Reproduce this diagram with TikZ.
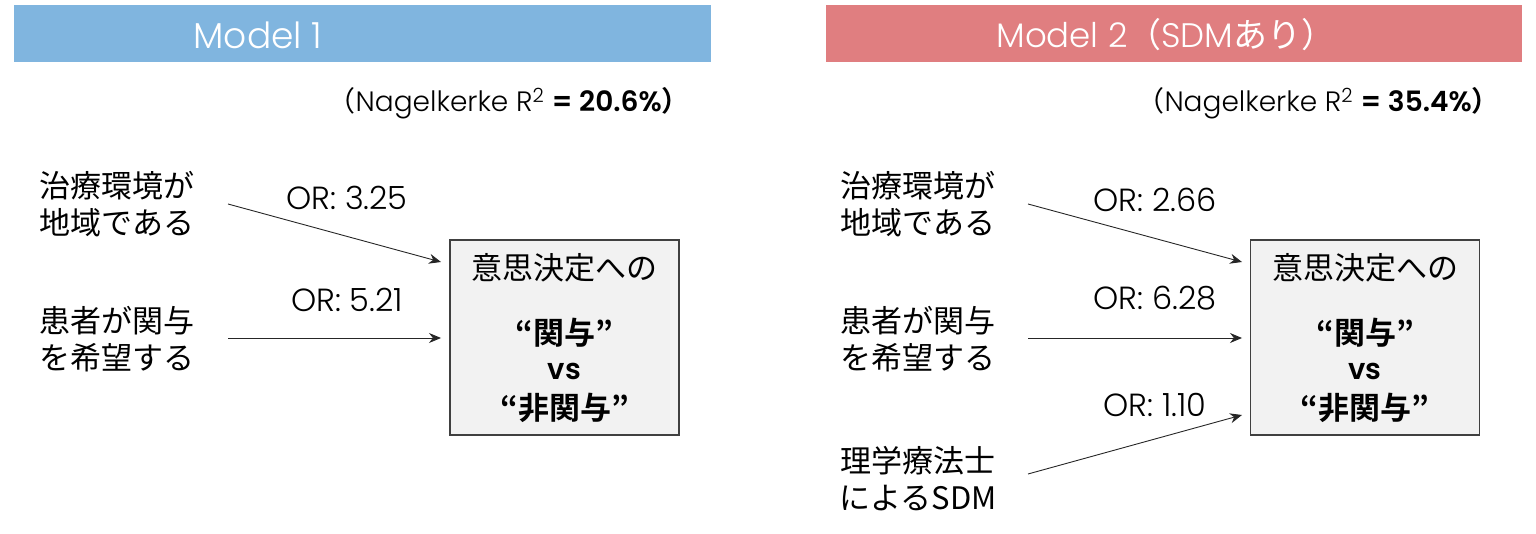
\documentclass[tikz,border=0pt]{standalone}
\usepackage{fontspec}
\setmainfont{Poppins}[UprightFont=* Light,BoldFont=* SemiBold]
\newfontfamily\jp{Noto Sans CJK JP}[BoldFont={Noto Sans CJK JP Bold}]
\usetikzlibrary{positioning,arrows.meta}
\definecolor{barblue}{RGB}{128,181,223}
\definecolor{barred}{RGB}{224,126,128}
\definecolor{boxgray}{RGB}{242,242,242}

\begin{document}
\begin{tikzpicture}[x=1pt,y=-1pt,>={Stealth[length=12pt,width=10pt]},
    every node/.style={inner sep=0pt},
    rsq/.style={anchor=east,font=\fontsize{28}{32}\selectfont},
    lbl/.style={align=center,font=\fontsize{31}{37}\selectfont\jp},
    ortxt/.style={font=\fontsize{32}{36}\selectfont},
    outbox/.style={draw=black!75,fill=boxgray,line width=1.3pt,minimum width=229pt,minimum height=195pt},
    inner/.style={font=\fontsize{31}{37}\selectfont\jp},
    path/.style={->,line width=0.9pt,black!85}]
\useasboundingbox (0,0) rectangle (1536,534);

% header bars
\fill[barblue] (14,5) rectangle (711,62);
\fill[barred] (826,5) rectangle (1522,62);
\node[text=white,font=\fontsize{36}{40}\selectfont] (head1) at (258,35) {Model 1};
\node[text=white,font=\fontsize{34}{40}\selectfont] (head2) at (1166,35) {Model 2{\jp（}SDM{\jp あり）}};
\node[rsq] (rsq1) at (690,103) {{\jp（}Nagelkerke R\textsuperscript{2} \textbf{= 20.6\%}{\jp\bfseries ）}};
\node[rsq] (rsq2) at (1500,103) {{\jp（}Nagelkerke R\textsuperscript{2} \textbf{= 35.4\%}{\jp\bfseries ）}};

% Model 1
\node[outbox] (box1) at (564.5,337.5) {};
\node[inner] (dec1) at (564.5,268) {意思決定への};
\node[inner] (inv1) at (564.5,333) {\bfseries “関与”};
\node[font=\fontsize{29}{32}\selectfont\bfseries] (vs1) at (564.5,371) {vs};
\node[inner] (non1) at (564.5,408) {\bfseries “非関与”};
\node[lbl] (env1) at (117,204) {治療環境が\\地域である};
\node[lbl] (hope1) at (117,339) {患者が関与\\を希望する};
\coordinate (e1) at (228,204);
\coordinate (h1) at (228,338);
\coordinate (t1) at (441,262);
\coordinate (t2) at (441,338);
\draw[path] (e1) -- (t1);
\draw[path] (h1) -- (t2);
\node[ortxt] (or11) at (347,198) {OR: 3.25};
\node[ortxt] (or12) at (347,300) {OR: 5.21};

% Model 2
\node[outbox] (box2) at (1365,337.5) {};
\node[inner] (dec2) at (1365,268) {意思決定への};
\node[inner] (inv2) at (1365,333) {\bfseries “関与”};
\node[font=\fontsize{29}{32}\selectfont\bfseries] (vs2) at (1365,371) {vs};
\node[inner] (non2) at (1365,408) {\bfseries “非関与”};
\node[lbl] (env2) at (918,204) {治療環境が\\地域である};
\node[lbl] (hope2) at (918,339) {患者が関与\\を希望する};
\node[lbl] (pt2) at (918,479) {理学療法士\\によるSDM};
\coordinate (e2) at (1028,204);
\coordinate (h2) at (1028,338);
\coordinate (p2) at (1028,474);
\coordinate (t3) at (1242,262);
\coordinate (t4) at (1242,338);
\coordinate (t5) at (1242,415);
\draw[path] (e2) -- (t3);
\draw[path] (h2) -- (t4);
\draw[path] (p2) -- (t5);
\node[ortxt] (or21) at (1155,200) {OR: 2.66};
\node[ortxt] (or22) at (1155,298) {OR: 6.28};
\node[ortxt] (or23) at (1155,405) {OR: 1.10};
\end{tikzpicture}
\end{document}
